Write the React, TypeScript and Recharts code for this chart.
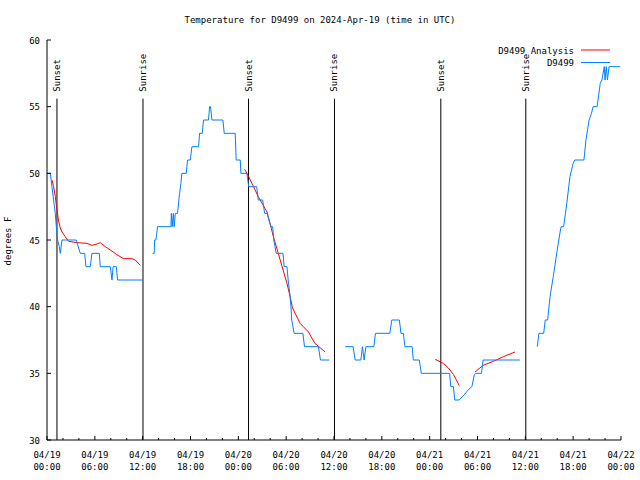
import React from 'react';
import { LineChart, Line, XAxis, YAxis, ReferenceLine } from 'recharts';

const FONT = '"DejaVu Sans Mono", "Liberation Mono", monospace';

const chartTitle = 'Temperature for D9499 on 2024-Apr-19 (time in UTC)';
const yAxisTitle = 'degrees F';
const seriesNames = ['D9499 Analysis', 'D9499'];
const seriesColors = ['#ff0000', '#0080ff'];

const yTicks = [30, 35, 40, 45, 50, 55, 60];
const xMajorHours = [0, 6, 12, 18, 24, 30, 36, 42, 48, 54, 60, 66, 72];
const xAllTickHours = [0, 2, 4, 6, 8, 10, 12, 14, 16, 18, 20, 22, 24, 26, 28, 30, 32, 34, 36, 38, 40, 42, 44, 46, 48, 50, 52, 54, 56, 58, 60, 62, 64, 66, 68, 70, 72];
const xTickDates = ['04/19', '04/19', '04/19', '04/19', '04/20', '04/20', '04/20', '04/20', '04/21', '04/21', '04/21', '04/21', '04/22'];
const xTickTimes = ['00:00', '06:00', '12:00', '18:00', '00:00', '06:00', '12:00', '18:00', '00:00', '06:00', '12:00', '18:00', '00:00'];

// sun events (hours since 04/19 00:00 UTC)
const sunLabels = ['Sunset', 'Sunrise', 'Sunset', 'Sunrise', 'Sunset', 'Sunrise'];
const sunHours = [1.25, 12.04, 25.28, 36.06, 49.4, 60.06];
const sunMarkerTop = 55.6;

// observations [hour, degF]
const obs1: number[][] = [
  [0, 50], [0.42, 50], [0.62, 49], [0.83, 48], [1.04, 47], [1.17, 46], [1.33, 45], [1.54, 44.5], [1.67, 44], [1.88, 45],
  [3.67, 45], [4.17, 44], [4.72, 44], [4.89, 43], [5.43, 43], [5.64, 44], [6.56, 44], [6.68, 43], [7.94, 43],
  [8.15, 42], [8.3, 43], [8.7, 43], [8.85, 42], [12.0, 42],
];
const obs2: number[][] = [
  [13.24, 44], [13.45, 44], [13.5, 45], [13.66, 45], [13.87, 46], [15.55, 46], [15.6, 47], [15.7, 46], [15.85, 47],
  [15.95, 46], [16.1, 47], [16.37, 47], [16.63, 48.5], [16.8, 49.25], [16.92, 50], [17.47, 50], [17.63, 51], [17.97, 51],
  [18.18, 52], [19.01, 52], [19.14, 53], [19.47, 53], [19.64, 54], [20.26, 54], [20.39, 55], [20.51, 55], [20.69, 54],
  [22.07, 54], [22.23, 53], [23.61, 53], [23.73, 51], [24.24, 51], [24.32, 50], [25.07, 50], [25.3, 49], [26.3, 49],
  [26.5, 48], [27.05, 48], [27.3, 47], [27.6, 47], [27.85, 46.5], [28.1, 46], [28.3, 46], [28.45, 45], [28.6, 44.5],
  [28.75, 44], [29.6, 44], [29.75, 43], [30.1, 43], [30.25, 42], [30.45, 41], [30.6, 40], [30.7, 39], [30.85, 38.5],
  [31.0, 38], [32.1, 38], [32.3, 37], [34.05, 37], [34.3, 36], [35.4, 36],
];
const obs3: number[][] = [
  [37.4, 37], [38.4, 37], [38.65, 36], [39.37, 36], [39.57, 37], [39.78, 36], [40.0, 37], [41.0, 37], [41.2, 38],
  [43.0, 38], [43.25, 39], [44.2, 39], [44.4, 38], [44.7, 38], [44.9, 37], [45.8, 37], [45.95, 36], [46.7, 36],
  [46.95, 35], [50.5, 35], [50.65, 34], [50.98, 34], [51.15, 33], [51.7, 33], [52.2, 33.3], [52.9, 33.8], [53.3, 34],
  [53.6, 34.9], [53.8, 35], [54.5, 35], [54.7, 36], [59.3, 36],
];
const obs4: number[][] = [
  [61.5, 37], [61.7, 38], [62.3, 38], [62.5, 39], [62.8, 39], [63.1, 40.75], [63.5, 42.25], [64.0, 44.25], [64.4, 45.75],
  [64.5, 46], [64.8, 46], [65.2, 47.75], [65.6, 49.75], [66.0, 50.75], [66.2, 51], [67.35, 51], [67.6, 52.5], [68.0, 54],
  [68.3, 54.5], [68.5, 55], [69.0, 55], [69.4, 56.75], [69.6, 57], [69.9, 58], [70.0, 57], [70.15, 58], [70.3, 57],
  [70.5, 58], [71.9, 58],
];

// analysis [hour, degF]
const ana1: number[][] = [
  [0.62, 49.5], [0.83, 49.0], [1.04, 48.25], [1.25, 47.25], [1.46, 46.4], [1.67, 45.9], [1.88, 45.6], [2.29, 45.25],
  [2.71, 44.9], [3.76, 44.8], [5.01, 44.75], [5.64, 44.6], [6.27, 44.7], [6.68, 44.8], [7.31, 44.5], [7.94, 44.25],
  [8.77, 43.9], [9.6, 43.6], [10.65, 43.6], [11.07, 43.5], [11.7, 43.1],
];
const ana2: number[][] = [
  [24.8, 50.3], [25.3, 49.75], [26.5, 48.25], [27.6, 47.1], [28.4, 45.25], [29.25, 43.5], [30.1, 41.75], [30.5, 40.75],
  [30.8, 39.9], [31.75, 38.75], [32.8, 38.1], [33.6, 37.25], [34.9, 36.6],
];
const ana3: number[][] = [[48.7, 36.05], [49.7, 35.75], [50.35, 35.4], [51.0, 34.9], [51.7, 34.1]];
const ana4: number[][] = [[53.7, 35.1], [54.7, 35.6], [56.0, 35.9], [57.25, 36.25], [58.7, 36.6]];

const joinSegments = (segs: number[][][]) => {
  const out: { t: number; v: number | null }[] = [];
  segs.forEach((seg, i) => {
    if (i > 0) {
      const gapT = (segs[i - 1][segs[i - 1].length - 1][0] + seg[0][0]) / 2;
      out.push({ t: gapT, v: null });
    }
    seg.forEach(([t, v]) => out.push({ t, v }));
  });
  return out;
};

const obsData = joinSegments([obs1, obs2, obs3, obs4]);
const anaData = joinSegments([ana1, ana2, ana3, ana4]);

const BottomTick = (props: any) => {
  const { x, y, payload } = props;
  const idx = xMajorHours.indexOf(payload.value);
  const major = idx >= 0;
  return (
    <g>
      <line x1={x} x2={x} y1={y} y2={y - (major ? 4 : 2)} stroke="#000" />
      {major && (
        <text x={x} y={y + 17.5} textAnchor="middle" fontSize={9} fontFamily={FONT} fill="#000">
          {xTickDates[idx]}
        </text>
      )}
      {major && (
        <text x={x} y={y + 29.5} textAnchor="middle" fontSize={9} fontFamily={FONT} fill="#000">
          {xTickTimes[idx]}
        </text>
      )}
    </g>
  );
};

const TopTick = (props: any) => {
  const { x, y, payload } = props;
  const major = xMajorHours.indexOf(payload.value) >= 0;
  return <line x1={x} x2={x} y1={y} y2={y + (major ? 4 : 2)} stroke="#000" />;
};

const LeftTick = (props: any) => {
  const { x, y, payload } = props;
  return (
    <g>
      <line x1={x} x2={x + 4} y1={y} y2={y} stroke="#000" />
      <text x={x - 7} y={y + 3.5} textAnchor="end" fontSize={9} fontFamily={FONT} fill="#000">
        {payload.value}
      </text>
    </g>
  );
};

const RightTick = (props: any) => {
  const { x, y } = props;
  return <line x1={x} x2={x - 4} y1={y} y2={y} stroke="#000" />;
};

const sunLabel = (text: string) => (p: any) => {
  const vb = p.viewBox || {};
  const x = vb.x;
  const y = vb.y - 7;
  return (
    <text
      x={x}
      y={y}
      transform={`rotate(-90 ${x} ${y})`}
      textAnchor="start"
      dominantBaseline="central"
      fontSize={9}
      fontFamily={FONT}
      fill="#000"
    >
      {text}
    </text>
  );
};

export default function App() {
  return (
    <div style={{ position: 'absolute', left: 0, top: 0, width: 640, height: 480, background: '#fff' }}>
      <LineChart width={640} height={480} margin={{ top: 40, right: 19, bottom: 0, left: 0 }}>
        <XAxis
          xAxisId="b"
          type="number"
          dataKey="t"
          domain={[0, 72]}
          ticks={xAllTickHours}
          interval={0}
          orientation="bottom"
          height={40}
          tickSize={0}
          tickMargin={0}
          tickLine={false}
          axisLine={{ stroke: '#000' }}
          tick={<BottomTick />}
          allowDataOverflow
        />
        <XAxis
          xAxisId="t"
          type="number"
          dataKey="t"
          domain={[0, 72]}
          ticks={xAllTickHours}
          interval={0}
          orientation="top"
          height={0}
          tickSize={0}
          tickMargin={0}
          tickLine={false}
          axisLine={{ stroke: '#000' }}
          tick={<TopTick />}
          allowDataOverflow
        />
        <YAxis
          yAxisId="l"
          type="number"
          domain={[30, 60]}
          ticks={yTicks}
          interval={0}
          width={47}
          tickSize={0}
          tickMargin={0}
          tickLine={false}
          axisLine={{ stroke: '#000' }}
          tick={<LeftTick />}
          allowDataOverflow
        />
        <YAxis
          yAxisId="r"
          orientation="right"
          type="number"
          domain={[30, 60]}
          ticks={yTicks}
          interval={0}
          width={0}
          tickSize={0}
          tickMargin={0}
          tickLine={false}
          axisLine={{ stroke: '#000' }}
          tick={<RightTick />}
          allowDataOverflow
        />
        {sunHours.map((h, i) => (
          <ReferenceLine
            key={'sun' + i}
            xAxisId="b"
            yAxisId="l"
            segment={[{ x: h, y: 30 }, { x: h, y: sunMarkerTop }]}
            stroke="#000"
            strokeWidth={1}
            label={sunLabel(sunLabels[i])}
          />
        ))}
        <Line
          xAxisId="b"
          yAxisId="l"
          data={anaData}
          dataKey="v"
          type="linear"
          stroke={seriesColors[0]}
          strokeWidth={1}
          dot={false}
          activeDot={false}
          connectNulls={false}
          isAnimationActive={false}
        />
        <Line
          xAxisId="b"
          yAxisId="l"
          data={obsData}
          dataKey="v"
          type="linear"
          stroke={seriesColors[1]}
          strokeWidth={1}
          dot={false}
          activeDot={false}
          connectNulls={false}
          isAnimationActive={false}
        />
      </LineChart>
      <svg width={640} height={480} style={{ position: 'absolute', left: 0, top: 0, pointerEvents: 'none' }}>
        <text x={320} y={23} textAnchor="middle" fontSize={9} fontFamily={FONT} fill="#000">
          {chartTitle}
        </text>
        <text
          x={7.5}
          y={241}
          transform="rotate(-90 7.5 241)"
          textAnchor="middle"
          dominantBaseline="central"
          fontSize={9}
          fontFamily={FONT}
          fill="#000"
        >
          {yAxisTitle}
        </text>
        {seriesNames.map((name, i) => (
          <g key={name}>
            <text x={574} y={53.5 + i * 12.5} textAnchor="end" fontSize={9} fontFamily={FONT} fill="#000">
              {name}
            </text>
            <line x1={581} x2={610} y1={50 + i * 12.5} y2={50 + i * 12.5} stroke={seriesColors[i]} strokeWidth={1} />
          </g>
        ))}
      </svg>
    </div>
  );
}
